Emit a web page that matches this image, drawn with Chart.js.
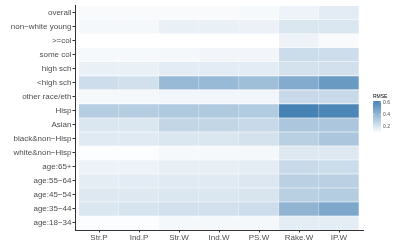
<!DOCTYPE html>
<html>
<head>
<meta charset="utf-8">
<script src="https://cdn.jsdelivr.net/npm/chart.js@4/dist/chart.umd.min.js"></script>
<style>
  html, body { margin: 0; padding: 0; background: #fff; }
  #wrap { width: 395px; height: 247px; }
</style>
</head>
<body>
<div id="wrap"><canvas id="heat" width="395" height="247"></canvas></div>
<script>
// rows (top to bottom) and columns of the heatmap
const rows = ['overall', 'non−white young', '>=col', 'some col', 'high sch', '<high sch',
  'other race/eth', 'Hisp', 'Asian', 'black&non−Hisp', 'white&non−Hisp',
  'age:65+', 'age:55−64', 'age:45−54', 'age:35−44', 'age:18−34'];
const columns = ['Str.P', 'Ind.P', 'Str.W', 'Ind.W', 'PS.W', 'Rake.W', 'IP.W'];

// RMSE per column, same order as rows
const strP  = [0.121, 0.131, 0.100, 0.126, 0.162, 0.240, 0.131, 0.308, 0.204, 0.188, 0.110, 0.152, 0.173, 0.194, 0.204, 0.110];
const indP  = [0.121, 0.131, 0.100, 0.126, 0.162, 0.230, 0.131, 0.308, 0.204, 0.188, 0.110, 0.152, 0.178, 0.194, 0.214, 0.110];
const strW  = [0.121, 0.162, 0.100, 0.131, 0.178, 0.386, 0.136, 0.324, 0.272, 0.204, 0.126, 0.168, 0.188, 0.204, 0.230, 0.131];
const indW  = [0.121, 0.162, 0.100, 0.136, 0.178, 0.386, 0.136, 0.324, 0.272, 0.204, 0.126, 0.168, 0.188, 0.204, 0.230, 0.131];
const psW   = [0.126, 0.157, 0.100, 0.136, 0.178, 0.370, 0.136, 0.318, 0.256, 0.220, 0.131, 0.173, 0.199, 0.209, 0.240, 0.131];
const rakeW = [0.152, 0.204, 0.152, 0.246, 0.220, 0.448, 0.256, 0.620, 0.334, 0.298, 0.194, 0.256, 0.292, 0.298, 0.412, 0.173];
const ipW   = [0.178, 0.204, 0.121, 0.240, 0.230, 0.521, 0.256, 0.604, 0.334, 0.334, 0.194, 0.246, 0.292, 0.308, 0.464, 0.173];

const legendTicks = [0.2, 0.4, 0.6];

const rmse = [strP, indP, strW, indW, psW, rakeW, ipW];
const vmin = 0.1, vmax = 0.62;
const low = [255, 255, 255], high = [70, 130, 180];

function fillFor(v) {
  let t = (v - vmin) / (vmax - vmin);
  t = Math.max(0, Math.min(1, t));
  const c = low.map((l, i) => Math.round(l + (high[i] - l) * t));
  return 'rgb(' + c.join(',') + ')';
}

// gradient colour bar on the right
const colorbar = {
  id: 'colorbar',
  afterDraw(chart) {
    const ctx = chart.ctx;
    const x0 = 373, y0 = 101, w = 8, h = 32;
    const g = ctx.createLinearGradient(0, y0 + h, 0, y0);
    for (let s = 0; s <= 10; s++) {
      g.addColorStop(s / 10, fillFor(vmin + (vmax - vmin) * s / 10));
    }
    ctx.save();
    ctx.fillStyle = g;
    ctx.fillRect(x0, y0, w, h);
    ctx.font = "5px 'Liberation Sans', Arial, sans-serif";
    ctx.fillStyle = '#000';
    ctx.textBaseline = 'alphabetic';
    ctx.fillText('RMSE', x0, y0 - 3);
    ctx.fillStyle = '#4d4d4d';
    ctx.textBaseline = 'middle';
    ctx.strokeStyle = '#fff';
    ctx.lineWidth = 0.5;
    legendTicks.forEach(v => {
      const y = y0 + h - (v - vmin) / (vmax - vmin) * h;
      ctx.beginPath();
      ctx.moveTo(x0, y); ctx.lineTo(x0 + 1.5, y);
      ctx.moveTo(x0 + w - 1.5, y); ctx.lineTo(x0 + w, y);
      ctx.stroke();
      ctx.fillText(v.toFixed(1), x0 + w + 2, y);
    });
    ctx.restore();
  }
};

Chart.defaults.font.family = "'Liberation Sans', Arial, sans-serif";
Chart.defaults.font.size = 8;
Chart.defaults.color = '#4d4d4d';

new Chart(document.getElementById('heat').getContext('2d'), {
  type: 'bar',
  data: {
    labels: rows,
    datasets: columns.map((c, j) => ({
      label: c,
      data: rows.map(() => 1), // each tile is one unit wide
      backgroundColor: rmse[j].map(fillFor),
      borderColor: 'rgba(255,255,255,0.45)',
      borderWidth: 0.6,
      barPercentage: 1,
      categoryPercentage: 1
    }))
  },
  options: {
    indexAxis: 'y',
    responsive: false,
    animation: false,
    layout: { padding: { left: 0, right: 32, top: 3, bottom: 0 } },
    plugins: { legend: { display: false }, tooltip: { enabled: false } },
    scales: {
      x: {
        type: 'linear',
        stacked: true,
        min: -0.1,
        max: 7.1,
        afterBuildTicks: s => { s.ticks = columns.map((c, i) => ({ value: i + 0.5 })); },
        afterFit: s => { s.height = 17; },
        ticks: { callback: v => columns[Math.round(v - 0.5)], padding: 0, maxRotation: 0, autoSkip: false },
        grid: { drawOnChartArea: false, drawTicks: true, tickLength: 2.5, color: '#333' },
        border: { display: true, color: '#333', width: 1 }
      },
      y: {
        stacked: true,
        afterFit: s => { s.width = 75; },
        ticks: { padding: 1, autoSkip: false },
        grid: { drawOnChartArea: false, drawTicks: true, tickLength: 2.5, color: '#333', offset: false },
        border: { display: true, color: '#333', width: 1 }
      }
    }
  },
  plugins: [colorbar]
});
</script>
</body>
</html>
